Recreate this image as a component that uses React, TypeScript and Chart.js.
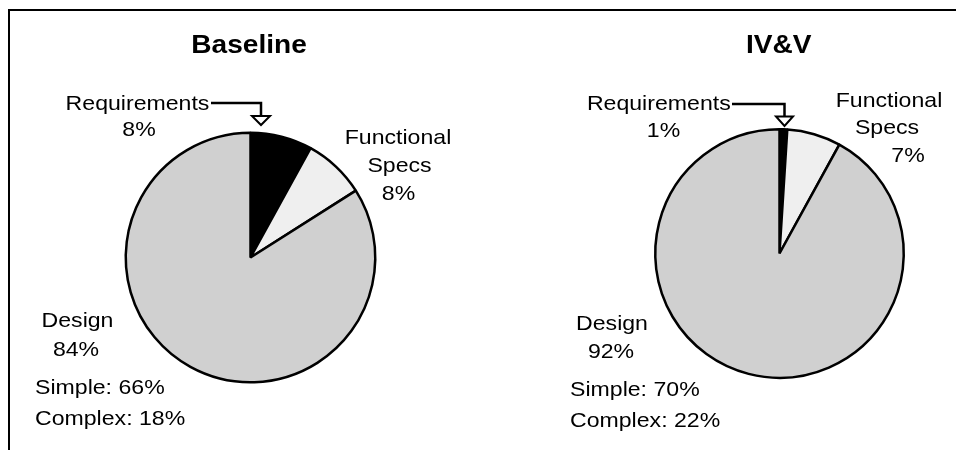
import React, { useEffect, useRef } from "react";
import { Chart, registerables } from "chart.js";

Chart.register(...registerables);

// ---- data ----
const categories = ["Requirements", "Functional Specs", "Design"];
const chartTitles = ["Baseline", "IV&V"];
const baselineShares = [8, 8, 84];
const ivvShares = [1, 7, 92];
const designSubtypes = ["Simple", "Complex"];
const baselineDesignSplit = [66, 18];
const ivvDesignSplit = [70, 22];

// ---- styles ----
const sliceColors = ["#000000", "#efefef", "#d0d0d0"];
const FONT = '"Liberation Sans", Arial, Helvetica, sans-serif';
const LABEL_FONT = `21px ${FONT}`;
const TITLE_FONT = `bold 26px ${FONT}`;
const LABEL_STRETCH = 1.1;
const TITLE_STRETCH = 1.08;

type Pt = [number, number];
interface PanelLayout {
  canvasLeft: number;
  padding: { left: number; right: number; top: number; bottom: number };
  title: Pt;
  req: Pt[];
  func: Pt[];
  design: Pt[];
  split: Pt[];
  arrow: { x0: number; x1: number; y: number; yEnd: number; triTop: number; tip: number; half: number };
}

const baselineLayout: PanelLayout = {
  canvasLeft: 0,
  padding: { left: 124.5, right: 101.5, top: 131.5, bottom: 66.5 },
  title: [249, 53],
  req: [[137.5, 109.5], [139, 135.5]],
  func: [[398, 144], [399.5, 172], [398.5, 200]],
  design: [[77.5, 327], [76, 356]],
  split: [[35, 394], [35, 425]],
  arrow: { x0: 211, x1: 261, y: 103, yEnd: 117, triTop: 116, tip: 125, half: 9 },
};

const ivvLayout: PanelLayout = {
  canvasLeft: 478,
  padding: { left: 176, right: 51, top: 128, bottom: 71 },
  title: [300.8, 53],
  req: [[180.8, 110], [185.5, 137]],
  func: [[411, 107], [409, 134], [430, 162]],
  design: [[134, 330], [133, 358]],
  split: [[92, 396], [92, 427]],
  arrow: { x0: 254, x1: 306.5, y: 104, yEnd: 117, triTop: 116.5, tip: 126, half: 8.5 },
};

function drawStretched(
  ctx: CanvasRenderingContext2D,
  text: string,
  x: number,
  y: number,
  align: CanvasTextAlign,
  font: string,
  sx: number
) {
  ctx.save();
  ctx.font = font;
  ctx.textAlign = align;
  ctx.textBaseline = "alphabetic";
  ctx.fillStyle = "#000";
  ctx.translate(x, y);
  ctx.scale(sx, 1);
  ctx.fillText(text, 0, 0);
  ctx.restore();
}

function makeLabelPlugin(title: string, values: number[], split: number[], layout: PanelLayout) {
  return {
    id: "pieLabels",
    afterDraw(chart: any) {
      const ctx: CanvasRenderingContext2D = chart.ctx;
      drawStretched(ctx, title, layout.title[0], layout.title[1], "center", TITLE_FONT, TITLE_STRETCH);

      const reqLines = [categories[0], `${values[0]}%`];
      const funcLines = [...categories[1].split(" "), `${values[1]}%`];
      const designLines = [categories[2], `${values[2]}%`];
      const splitLines = designSubtypes.map((s, i) => `${s}: ${split[i]}%`);

      reqLines.forEach((t, i) => drawStretched(ctx, t, layout.req[i][0], layout.req[i][1], "center", LABEL_FONT, LABEL_STRETCH));
      funcLines.forEach((t, i) => drawStretched(ctx, t, layout.func[i][0], layout.func[i][1], "center", LABEL_FONT, LABEL_STRETCH));
      designLines.forEach((t, i) => drawStretched(ctx, t, layout.design[i][0], layout.design[i][1], "center", LABEL_FONT, LABEL_STRETCH));
      splitLines.forEach((t, i) => drawStretched(ctx, t, layout.split[i][0], layout.split[i][1], "left", LABEL_FONT, LABEL_STRETCH));

      const a = layout.arrow;
      ctx.save();
      ctx.strokeStyle = "#000";
      ctx.lineWidth = 2.5;
      ctx.lineJoin = "miter";
      ctx.beginPath();
      ctx.moveTo(a.x0, a.y);
      ctx.lineTo(a.x1, a.y);
      ctx.lineTo(a.x1, a.yEnd);
      ctx.stroke();
      ctx.beginPath();
      ctx.moveTo(a.x1 - a.half, a.triTop);
      ctx.lineTo(a.x1 + a.half, a.triTop);
      ctx.lineTo(a.x1, a.tip);
      ctx.closePath();
      ctx.fillStyle = "#fff";
      ctx.fill();
      ctx.lineWidth = 2;
      ctx.stroke();
      ctx.restore();
    },
  };
}

function PiePanel(props: { title: string; values: number[]; split: number[]; layout: PanelLayout }) {
  const ref = useRef<HTMLCanvasElement>(null);
  useEffect(() => {
    if (!ref.current) return;
    const { title, values, split, layout } = props;
    const chart = new Chart(ref.current, {
      type: "pie",
      data: {
        labels: categories,
        datasets: [
          {
            data: values,
            backgroundColor: sliceColors,
            borderColor: "#000000",
            borderWidth: 2.5,
          },
        ],
      },
      options: {
        responsive: false,
        animation: false,
        events: [],
        layout: { padding: layout.padding },
        plugins: {
          legend: { display: false },
          tooltip: { enabled: false },
          title: { display: false },
        },
      },
      plugins: [makeLabelPlugin(title, values, split, layout)],
    } as any);
    return () => chart.destroy();
  }, []);
  return (
    <canvas
      ref={ref}
      width={478}
      height={450}
      style={{ position: "absolute", left: props.layout.canvasLeft, top: 0, width: 478, height: 450 }}
    />
  );
}

export default function App() {
  return (
    <div style={{ position: "absolute", left: 0, top: 0, width: 956, height: 450, background: "#fff", overflow: "hidden" }}>
      <div
        style={{
          position: "absolute",
          left: 8,
          top: 9,
          width: 960,
          height: 460,
          borderTop: "2px solid #000",
          borderLeft: "2px solid #000",
          boxSizing: "border-box",
        }}
      />
      <PiePanel title={chartTitles[0]} values={baselineShares} split={baselineDesignSplit} layout={baselineLayout} />
      <PiePanel title={chartTitles[1]} values={ivvShares} split={ivvDesignSplit} layout={ivvLayout} />
    </div>
  );
}
